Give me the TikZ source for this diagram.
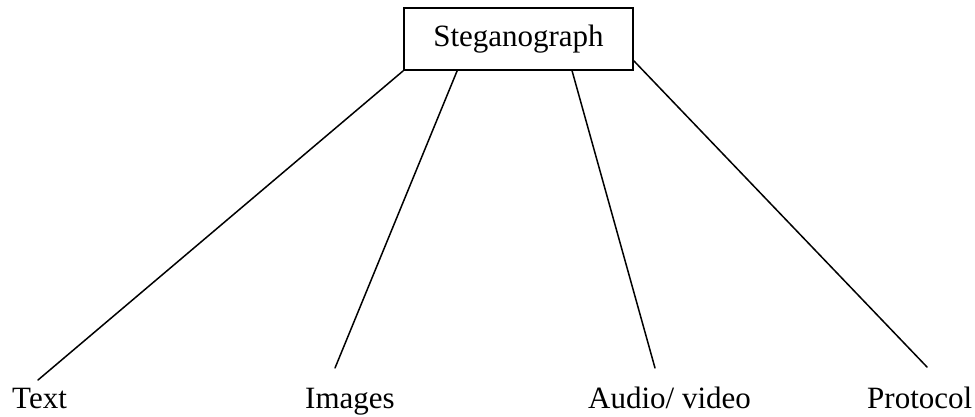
\documentclass[tikz,border=0pt]{standalone}
\usepackage{fontspec}
\setmainfont{Liberation Serif}
\begin{document}
\begin{tikzpicture}[x=1pt,y=-1pt,
  rootbox/.style={draw, line width=1.8pt, minimum width=229pt, minimum height=62pt, inner sep=0pt, font=\fontsize{31}{36}\selectfont},
  leaf/.style={anchor=base west, inner sep=0pt, font=\fontsize{31}{36}\selectfont},
  branch/.style={line width=1.5pt, line cap=round}]
  \useasboundingbox (0,0) rectangle (975,416);

  % root of the tree
  \node[rootbox] (root) at (518.5,39) {Steganograph};

  % leaves
  \node[leaf] (text)     at (12,408)  {Text};
  \node[leaf] (images)   at (305,408) {Images};
  \node[leaf] (audio)    at (588,408) {Audio/ video};
  \node[leaf] (protocol) at (867,408) {Protocol};

  % end points of the branches just above the leaves
  \coordinate (e1) at (38,380);
  \coordinate (e2) at (335,368);
  \coordinate (e3) at (655,368);
  \coordinate (e4) at (927,367);

  % start points on the box
  \coordinate (s2) at ([xshift=54pt]root.south west);
  \coordinate (s3) at ([xshift=169pt]root.south west);
  \coordinate (s4) at ([yshift=10pt]root.south east);

  \draw[branch] (root.south west) -- (e1);
  \draw[branch] (s2) -- (e2);
  \draw[branch] (s3) -- (e3);
  \draw[branch] (s4) -- (e4);
\end{tikzpicture}
\end{document}
